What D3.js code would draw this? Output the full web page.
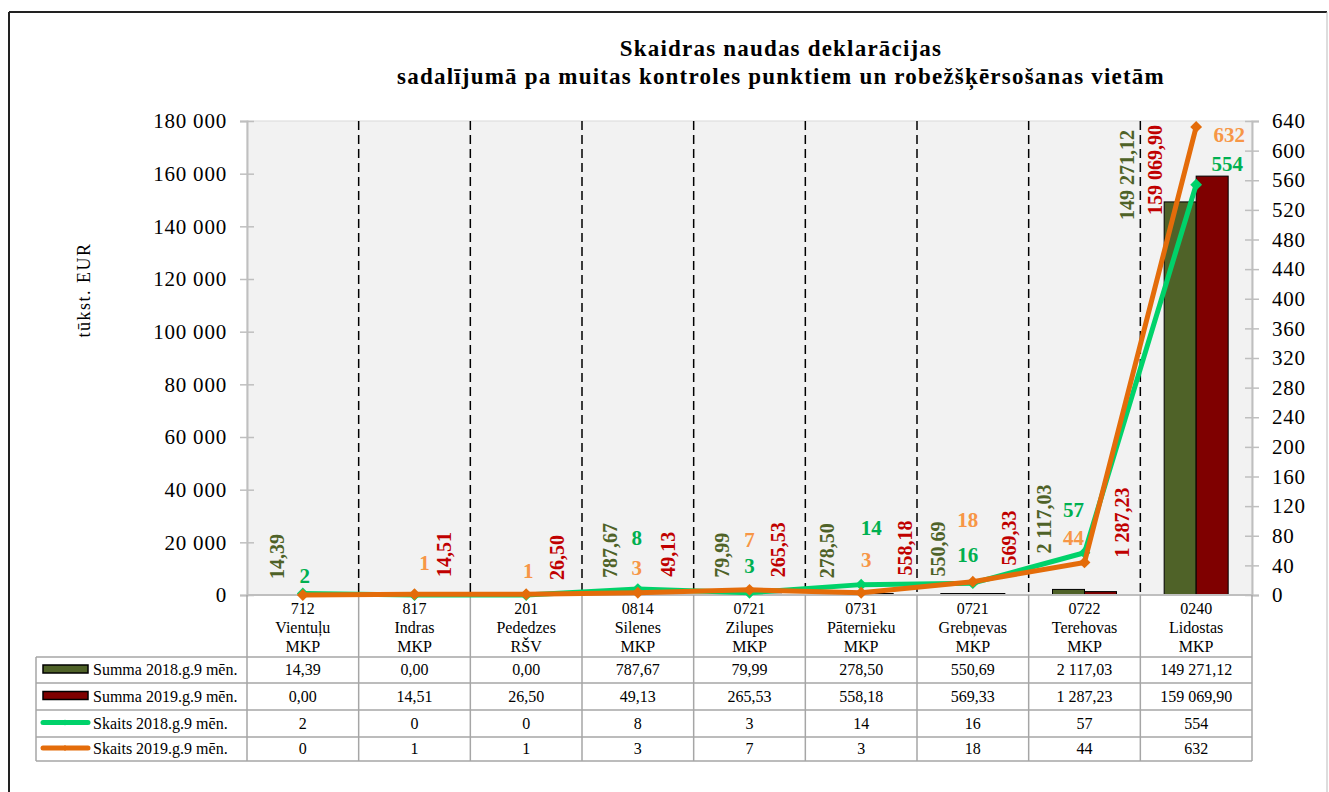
<!DOCTYPE html>
<html lang="lv">
  <head>
    <meta charset="UTF-8" />
    <title>Skaidras naudas deklarācijas</title>
    <script src="https://d3js.org/d3.v7.min.js"></script>
    <style>
      body {
        margin: 0;
        background: #fff;
      }
      svg text {
        font-family: "Liberation Serif", "Times New Roman", serif;
      }
    </style>
  </head>
  <body>
    <div id="chart"></div>
    <script>
      const codes = ["712", "817", "201", "0814", "0721", "0731", "0721", "0722", "0240"];
      const names = ["Vientuļu", "Indras", "Pededzes", "Silenes", "Zilupes", "Pāternieku", "Grebņevas", "Terehovas", "Lidostas"];
      const kinds = ["MKP", "MKP", "RŠV", "MKP", "MKP", "MKP", "MKP", "MKP", "MKP"];

      const summa2018 = [14.39, 0, 0, 787.67, 79.99, 278.5, 550.69, 2117.03, 149271.12];
      const summa2019 = [0, 14.51, 26.5, 49.13, 265.53, 558.18, 569.33, 1287.23, 159069.9];
      const skaits2018 = [2, 0, 0, 8, 3, 14, 16, 57, 554];
      const skaits2019 = [0, 1, 1, 3, 7, 3, 18, 44, 632];

      const leftTicks = d3.range(0, 180001, 20000);
      const rightTicks = d3.range(0, 641, 40);

      // manual nudges of the data labels (px), like the hand-placed Excel labels
      const nudgeS18 = [[-26, -16], null, null, [-28, -15], [-27, -17], [-34, -16], [-35, -17], [-40, -36], [-69, 18]];
      const nudgeS19 = [null, [30, -18], [31, -15], [30, -18], [29, -17], [44, -18], [36, -28], [38, -34], [-41, 39]];
      const nudgeC18 = [[2, -11], null, null, [-1, -44], [0, -20], [10, -50], [-5, -21], [-11, -36], [31, -14]];
      const nudgeC19 = [null, [10, -24], [2, -16], [-1, -18], [0, -43], [5, -26], [-5, -55], [-11, -17], [33, 15]];

      const lv = d3.formatLocale({decimal: ",", thousands: " ", grouping: [3], currency: ["", ""]});
      const fmt2 = lv.format(",.2f");
      const fmt0 = lv.format(",d");

      const W = 1329;
      const H = 792;
      const plot = {left: 247, right: 1252, top: 121, bottom: 595};
      const rows = [657, 683, 710, 737, 761];

      const svg = d3.select("#chart").append("svg").attr("width", W).attr("height", H);

      // frame
      svg.append("line").attr("x1", 9).attr("x2", 1327).attr("y1", 12).attr("y2", 12).attr("stroke", "#222").attr("stroke-width", 2);
      svg.append("line").attr("x1", 9).attr("x2", 9).attr("y1", 12).attr("y2", H).attr("stroke", "#222").attr("stroke-width", 2);
      svg.append("line").attr("x1", 1327).attr("x2", 1327).attr("y1", 12).attr("y2", H).attr("stroke", "#bbb").attr("stroke-width", 1);

      svg
        .append("text")
        .attr("x", 781)
        .attr("text-anchor", "middle")
        .attr("font-size", "23px")
        .attr("font-weight", "bold")
        .attr("letter-spacing", "1.2px")
        .selectAll("tspan")
        .data(["Skaidras naudas deklarācijas", "sadalījumā pa muitas kontroles punktiem un robežšķērsošanas vietām"])
        .join("tspan")
        .attr("x", 781)
        .attr("y", (d, i) => 56 + i * 28)
        .text((d) => d);

      const x = d3.scaleBand().domain(d3.range(codes.length)).range([plot.left, plot.right]);
      const xc = (i) => x(i) + x.bandwidth() / 2;
      const xBar = d3.scaleBand().domain(["s18", "s19"]).range([-32, 32]);
      const yL = d3.scaleLinear().domain([0, 180000]).range([plot.bottom, plot.top]);
      const yR = d3.scaleLinear().domain([0, 640]).range([plot.bottom, plot.top]);

      svg
        .append("rect")
        .attr("x", plot.left)
        .attr("y", plot.top)
        .attr("width", plot.right - plot.left)
        .attr("height", plot.bottom - plot.top)
        .attr("fill", "#f2f2f2")
        .attr("stroke", "#d9d9d9");

      // dashed separators between control points
      svg
        .append("g")
        .selectAll("line")
        .data(d3.range(1, codes.length))
        .join("line")
        .attr("x1", (i) => x(i))
        .attr("x2", (i) => x(i))
        .attr("y1", plot.top)
        .attr("y2", plot.bottom)
        .attr("stroke", "#000")
        .attr("stroke-width", 1.5)
        .attr("stroke-dasharray", "9,5");

      const barSeries = [
        {key: "s18", values: summa2018, fill: "#4f6228"},
        {key: "s19", values: summa2019, fill: "#7f0000"},
      ];

      barSeries.forEach((s) => {
        svg
          .append("g")
          .selectAll("rect")
          .data(s.values)
          .join("rect")
          .attr("x", (d, i) => xc(i) + xBar(s.key))
          .attr("y", (d) => yL(d))
          .attr("width", xBar.bandwidth())
          .attr("height", (d) => plot.bottom - yL(d))
          .attr("fill", s.fill)
          .attr("stroke", "#000")
          .attr("stroke-width", 1);
      });

      // axes
      const axisL = svg
        .append("g")
        .attr("transform", `translate(${plot.left},0)`)
        .call(d3.axisLeft(yL).tickValues(leftTicks).tickSize(7).tickPadding(13).tickFormat(fmt0));
      axisL.selectAll(".tick line").attr("x1", 7);
      const axisR = svg
        .append("g")
        .attr("transform", `translate(${plot.right},0)`)
        .call(d3.axisRight(yR).tickValues(rightTicks).tickSize(7).tickPadding(13).tickFormat(fmt0));
      axisR.selectAll(".tick line").attr("x1", -7);
      [axisL, axisR].forEach((a) => {
        a.select(".domain").attr("stroke", "#bfbfbf").attr("stroke-width", 2);
        a.selectAll(".tick line").attr("stroke", "#bfbfbf").attr("stroke-width", 1.5);
        a.selectAll(".tick text")
          .attr("font-family", "Liberation Serif, serif")
          .attr("font-size", "21px")
          .attr("letter-spacing", "0.8px")
          .attr("fill", "#000");
      });

      svg
        .append("text")
        .attr("transform", "translate(90,290) rotate(-90)")
        .attr("text-anchor", "middle")
        .attr("font-size", "18px")
        .attr("letter-spacing", "1.5px")
        .text("tūkst. EUR");

      // table grid
      const grid = svg.append("g").attr("stroke", "#a6a6a6").attr("stroke-width", 1.5);
      grid.append("line").attr("x1", plot.left).attr("x2", plot.right).attr("y1", plot.bottom).attr("y2", plot.bottom).attr("stroke", "#bfbfbf").attr("stroke-width", 2);
      rows.forEach((r) => {
        grid.append("line").attr("x1", 36).attr("x2", plot.right).attr("y1", r).attr("y2", r);
      });
      grid.append("line").attr("x1", 36).attr("x2", 36).attr("y1", rows[0]).attr("y2", rows[4]);
      d3.range(codes.length + 1).forEach((i) => {
        const xx = i === codes.length ? plot.right : x(i);
        grid.append("line").attr("x1", xx).attr("x2", xx).attr("y1", plot.bottom).attr("y2", rows[4]);
      });

      svg
        .append("g")
        .selectAll("text")
        .data(d3.range(codes.length))
        .join("text")
        .attr("text-anchor", "middle")
        .attr("font-size", "16px")
        .selectAll("tspan")
        .data((i) => [codes[i], names[i], kinds[i]].map((t) => ({t, i})))
        .join("tspan")
        .attr("x", (d) => xc(d.i))
        .attr("y", (d, j) => 614 + j * 19)
        .text((d) => d.t);

      const tableRows = [
        {name: "Summa 2018.g.9 mēn.", values: summa2018, fmt: fmt2, type: "bar", color: "#4f6228"},
        {name: "Summa 2019.g.9 mēn.", values: summa2019, fmt: fmt2, type: "bar", color: "#7f0000"},
        {name: "Skaits 2018.g.9 mēn.", values: skaits2018, fmt: fmt0, type: "line", color: "#00d26a"},
        {name: "Skaits 2019.g.9 mēn.", values: skaits2019, fmt: fmt0, type: "line", color: "#e46c0a"},
      ];

      tableRows.forEach((row, r) => {
        const cy = (rows[r] + rows[r + 1]) / 2;
        if (row.type === "bar") {
          svg
            .append("rect")
            .attr("x", 43)
            .attr("y", cy - 5)
            .attr("width", 45)
            .attr("height", 8)
            .attr("fill", row.color)
            .attr("stroke", "#000")
            .attr("stroke-width", 1.5);
        } else {
          svg
            .append("line")
            .attr("x1", 43)
            .attr("x2", 88)
            .attr("y1", cy - 1)
            .attr("y2", cy - 1)
            .attr("stroke", row.color)
            .attr("stroke-width", 5)
            .attr("stroke-linecap", "round");
          svg
            .append("path")
            .attr("d", d3.symbol().type(d3.symbolSquare).size(18)())
            .attr("transform", `translate(65,${cy - 1}) rotate(45)`)
            .attr("fill", row.color);
        }
        svg
          .append("text")
          .attr("x", 93)
          .attr("y", cy + 5)
          .attr("font-size", "16px")
          .text(row.name);
        svg
          .append("g")
          .selectAll("text")
          .data(row.values)
          .join("text")
          .attr("x", (d, i) => xc(i))
          .attr("y", cy + 5)
          .attr("text-anchor", "middle")
          .attr("font-size", "16px")
          .text((d) => row.fmt(d));
      });

      // count lines
      const lineSeries = [
        {values: skaits2018, color: "#00d26a"},
        {values: skaits2019, color: "#e46c0a"},
      ];
      lineSeries.forEach((s) => {
        svg
          .append("path")
          .datum(s.values)
          .attr("fill", "none")
          .attr("stroke", s.color)
          .attr("stroke-width", 5)
          .attr("stroke-linejoin", "round")
          .attr(
            "d",
            d3
              .line()
              .x((d, i) => xc(i))
              .y((d) => yR(d))
          );
        svg
          .append("g")
          .selectAll("path")
          .data(s.values)
          .join("path")
          .attr("d", d3.symbol().type(d3.symbolSquare).size(70)())
          .attr("transform", (d, i) => `translate(${xc(i)},${yR(d)}) rotate(45)`)
          .attr("fill", s.color);
      });

      // data labels
      const rotLabels = [
        {values: summa2018, nudge: nudgeS18, color: "#4f6228"},
        {values: summa2019, nudge: nudgeS19, color: "#c00000"},
      ];
      rotLabels.forEach((s) => {
        svg
          .append("g")
          .selectAll("text")
          .data(s.values.map((v, i) => ({v, i, n: s.nudge[i]})).filter((d) => d.v > 0 && d.n))
          .join("text")
          .attr("transform", (d) => `translate(${xc(d.i) + d.n[0]},${yL(d.v) + d.n[1]}) rotate(-90)`)
          .attr("dy", "0.34em")
          .attr("font-size", "20px")
          .attr("font-weight", "bold")
          .attr("fill", s.color)
          .text((d) => fmt2(d.v));
      });

      const countLabels = [
        {values: skaits2018, nudge: nudgeC18, color: "#00b050"},
        {values: skaits2019, nudge: nudgeC19, color: "#f79646"},
      ];
      countLabels.forEach((s) => {
        svg
          .append("g")
          .selectAll("text")
          .data(s.values.map((v, i) => ({v, i, n: s.nudge[i]})).filter((d) => d.v > 0 && d.n))
          .join("text")
          .attr("x", (d) => xc(d.i) + d.n[0])
          .attr("y", (d) => yR(d.v) + d.n[1])
          .attr("text-anchor", "middle")
          .attr("font-size", "21px")
          .attr("font-weight", "bold")
          .attr("fill", s.color)
          .text((d) => fmt0(d.v));
      });
    </script>
  </body>
</html>
